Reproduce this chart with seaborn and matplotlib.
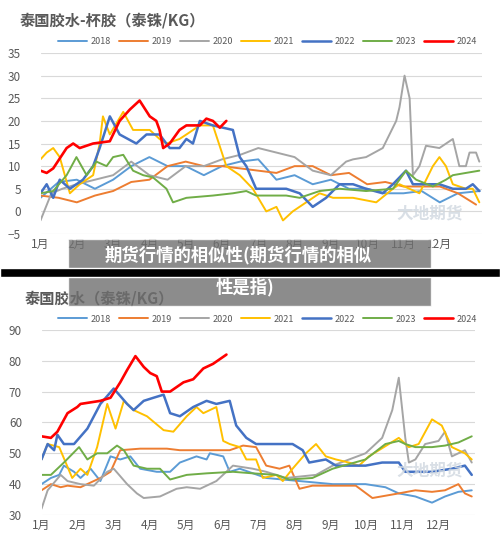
import numpy as np
import pandas as pd
import matplotlib
matplotlib.use("Agg")
import matplotlib.pyplot as plt
import seaborn as sns
from matplotlib.patches import Rectangle

sns.set_theme(style="white")
plt.rcParams['font.family'] = ['Noto Sans CJK SC', 'DejaVu Sans']

years = ['2018', '2019', '2020', '2021', '2022', '2023', '2024']
colors = ['#5B9BD5', '#ED7D31', '#A5A5A5', '#FFC000', '#4472C4', '#70AD47', '#FF0000']
month_labels = ['1月', '2月', '3月', '4月', '5月', '6月', '7月', '8月', '9月', '10月', '11月', '12月']

# ---- top chart: cup lump (months since Jan 1, value) ----
cup_x_2018 = [0, 0.5, 1, 1.5, 2, 2.5, 3, 3.5, 4, 4.5, 5, 5.5, 6, 6.5, 7, 7.5, 8, 8.5, 9, 9.5, 10, 10.5, 11, 11.5, 12.1]
cup_y_2018 = [3, 6.5, 7, 5, 7, 10, 12, 10, 10, 8, 10, 11, 11.5, 7, 8, 6, 7, 5, 5, 4, 4, 4.5, 2, 4, 4.5]
cup_x_2019 = [0, 0.5, 1, 1.5, 2, 2.5, 3, 3.5, 4, 4.5, 5, 5.5, 6, 6.5, 7, 7.5, 8, 8.5, 9, 9.5, 10, 10.5, 11, 11.5, 12.0]
cup_y_2019 = [3.5, 3, 2, 3.5, 4.5, 6.5, 7, 10, 11, 10, 10, 9.5, 9, 8.5, 10, 10, 8, 8.5, 6, 6.5, 5.5, 5.5, 5.5, 4, 1.5]
cup_x_2020 = [0, 0.3, 0.6, 1, 1.5, 2, 2.5, 3, 3.5, 4, 4.5, 5, 5.5, 6, 6.5, 7, 7.5, 8, 8.42, 8.61, 8.97, 9.43, 9.8, 9.89, 10.03, 10.17, 10.26, 10.44, 10.62, 10.99, 11.36, 11.54, 11.72, 11.82, 12.0, 12.09]
cup_y_2020 = [-2, 4, 5, 6, 7, 8, 11, 8, 7, 10, 10, 11.5, 12.5, 14, 13, 12, 9, 8, 11, 11.5, 12, 14, 20, 23, 30, 25, 8, 10, 14.5, 14, 16, 10, 10, 13, 13, 11]
cup_x_2021 = [0, 0.17, 0.35, 0.53, 0.81, 1.08, 1.45, 1.63, 1.72, 1.91, 2.28, 2.55, 3.01, 3.28, 3.47, 3.83, 4.02, 4.39, 4.75, 5.12, 5.49, 5.85, 6.22, 6.5, 6.68, 6.95, 7.32, 7.69, 8.06, 8.61, 9.25, 9.71, 9.89, 10.44, 10.81, 10.99, 11.17, 11.36, 11.72, 11.91, 12.09]
cup_y_2021 = [11.5, 13, 14, 12, 4, 6, 8, 15, 21, 17, 22, 18, 18, 16, 15, 16, 17, 19, 19, 10, 8, 5, 0, 1, -2, 0, 2, 4, 3, 3, 2, 5, 6, 4, 10, 12, 10, 6, 5, 5, 2]
cup_x_2022 = [0, 0.17, 0.35, 0.53, 0.81, 1.17, 1.45, 1.63, 1.91, 2.18, 2.64, 2.92, 3.28, 3.56, 3.83, 4.02, 4.2, 4.39, 4.75, 5.3, 5.49, 5.67, 5.94, 6.22, 6.77, 7.14, 7.5, 7.87, 8.24, 8.61, 8.97, 9.43, 9.71, 10.07, 10.26, 10.62, 10.99, 11.36, 11.72, 11.91, 12.09]
cup_y_2022 = [4, 6, 3, 7, 5, 7, 10, 14, 21, 17, 15, 17, 17, 14, 14, 16, 15, 20, 19, 18, 12, 10, 5, 5, 5, 4, 1, 3, 6, 6, 5, 4, 6, 9, 6, 6, 6, 5, 5, 6, 4.5]
cup_x_2023 = [0, 0.35, 0.72, 0.99, 1.27, 1.54, 1.82, 2.0, 2.28, 2.55, 2.83, 3.1, 3.47, 3.65, 4.02, 4.75, 5.3, 5.67, 5.94, 6.77, 7.14, 7.69, 8.24, 8.97, 9.71, 10.07, 10.35, 10.81, 11.17, 11.36, 11.72, 12.09]
cup_y_2023 = [4, 4.5, 8, 12, 8, 11, 10, 12, 12.5, 9, 8, 7.5, 5, 2, 3, 3.5, 4, 4.5, 3.5, 3.5, 3, 4.5, 5, 4.5, 5, 9, 7, 5.5, 7, 8, 8.5, 9]
cup_x_2024 = [0, 0.17, 0.35, 0.72, 0.9, 1.08, 1.45, 1.91, 2.18, 2.46, 2.73, 3.01, 3.19, 3.28, 3.38, 3.56, 3.83, 4.02, 4.39, 4.57, 4.75, 4.94, 5.12]
cup_y_2024 = [9, 8.5, 9.5, 14, 15, 14, 15, 15.5, 20, 22.5, 24.5, 21, 20, 18, 14, 15, 18, 19, 19, 20.5, 20, 18.5, 20]

# ---- bottom chart: latex ----
lat_x_2018 = [0, 0.26, 0.49, 0.62, 0.9, 1.08, 1.36, 1.63, 1.91, 2.18, 2.46, 2.73, 3.19, 3.56, 3.83, 4.29, 4.57, 4.66, 5.03, 5.21, 5.49, 6.22, 7.14, 8.06, 8.97, 9.52, 9.89, 10.35, 10.81, 11.17, 11.54, 11.91]
lat_y_2018 = [40, 42, 43, 46, 44, 42, 45, 41, 49, 48, 49, 45, 44, 44, 47, 49, 48, 50, 49, 44, 45, 42, 41, 40, 40, 39, 37, 36, 34, 36, 37.5, 38]
lat_x_2019 = [0, 0.26, 0.53, 0.72, 1.08, 1.63, 1.91, 2.18, 2.73, 3.47, 3.83, 4.57, 5.21, 5.58, 5.94, 6.22, 6.59, 6.86, 7.14, 7.5, 8.06, 8.7, 9.16, 9.89, 10.35, 10.81, 11.17, 11.54, 11.72, 11.91]
lat_y_2019 = [38, 40, 39, 39.5, 39, 42, 44, 51, 51.5, 51.5, 51, 51, 51, 52.5, 52, 46, 45, 46, 38.5, 39.5, 39.5, 39.5, 35.5, 37, 38, 37.5, 38, 40, 37, 36]
lat_x_2020 = [0, 0.17, 0.53, 0.72, 1.08, 1.45, 1.82, 2.0, 2.37, 2.64, 2.83, 3.28, 3.74, 4.02, 4.39, 4.84, 5.3, 5.85, 6.22, 6.77, 7.6, 8.06, 8.97, 9.43, 9.71, 9.89, 10.07, 10.17, 10.35, 10.62, 10.99, 11.17, 11.36, 11.72, 11.91]
lat_y_2020 = [32, 38, 43, 41, 40, 39.5, 44, 45, 40, 37, 35.5, 36, 38.5, 39, 38.5, 41, 46, 45, 44, 42, 43, 46, 50, 55, 64, 74.5, 55, 47, 48, 53, 54, 57, 49, 51, 47]
lat_x_2021 = [0, 0.17, 0.49, 0.85, 1.08, 1.27, 1.54, 1.82, 2.05, 2.28, 2.55, 2.92, 3.38, 3.65, 4.02, 4.29, 4.48, 4.84, 5.03, 5.21, 5.49, 5.67, 5.94, 6.13, 6.5, 6.68, 6.95, 7.32, 7.6, 7.87, 8.15, 8.51, 8.79, 9.06, 9.34, 9.89, 10.17, 10.44, 10.81, 11.08, 11.36, 11.72, 11.91]
lat_y_2021 = [48, 53, 52, 42, 45, 43, 52, 66, 58, 67, 64, 62, 57.5, 57, 62, 65, 63, 65, 54, 53, 52, 48, 48, 42, 43, 41, 45, 50, 53, 49, 48, 47, 46, 49, 51, 55, 52, 53, 61, 59, 52, 50, 48]
lat_x_2022 = [0, 0.17, 0.35, 0.44, 0.62, 0.9, 1.27, 1.63, 2.0, 2.37, 2.55, 2.83, 3.1, 3.38, 3.56, 3.83, 4.2, 4.57, 4.84, 5.21, 5.39, 5.67, 5.94, 6.68, 6.95, 7.23, 7.41, 7.87, 8.15, 8.97, 9.43, 9.89, 10.07, 10.81, 11.36, 11.72, 11.91]
lat_y_2022 = [48, 53, 51, 56, 53, 53, 58, 66, 71, 66, 64, 67, 68, 69, 63, 62, 65, 67, 66, 67, 59, 55, 53, 53, 53, 51, 47, 48, 46, 46, 47, 47, 44, 44, 45, 46, 43]
lat_x_2023 = [0, 0.26, 0.62, 1.04, 1.27, 1.54, 1.82, 2.09, 2.28, 2.55, 2.92, 3.28, 3.56, 4.02, 4.57, 5.3, 5.85, 6.5, 6.86, 7.5, 8.06, 8.97, 9.52, 9.89, 10.07, 10.35, 10.81, 11.17, 11.54, 11.91]
lat_y_2023 = [43, 43, 47, 52, 48, 50, 50, 52.5, 51, 46, 45, 45, 41.5, 43, 43.5, 44, 43.5, 43, 41.5, 42, 45, 48, 53, 54, 53, 52, 52, 52.5, 53.5, 55.5]
lat_x_2024 = [0, 0.26, 0.44, 0.72, 0.99, 1.08, 1.63, 1.91, 2.18, 2.37, 2.6, 2.83, 3.01, 3.19, 3.33, 3.56, 3.93, 4.2, 4.48, 4.75, 5.12]
lat_y_2024 = [55.5, 55, 57, 63, 65, 66, 67, 68, 73, 77, 81.5, 78, 76, 75, 70, 70, 73, 74, 77.5, 79, 82]

cup = {'2018': (cup_x_2018, cup_y_2018), '2019': (cup_x_2019, cup_y_2019), '2020': (cup_x_2020, cup_y_2020),
       '2021': (cup_x_2021, cup_y_2021), '2022': (cup_x_2022, cup_y_2022), '2023': (cup_x_2023, cup_y_2023),
       '2024': (cup_x_2024, cup_y_2024)}
lat = {'2018': (lat_x_2018, lat_y_2018), '2019': (lat_x_2019, lat_y_2019), '2020': (lat_x_2020, lat_y_2020),
       '2021': (lat_x_2021, lat_y_2021), '2022': (lat_x_2022, lat_y_2022), '2023': (lat_x_2023, lat_y_2023),
       '2024': (lat_x_2024, lat_y_2024)}

def to_df(d):
    rows = []
    for yr in years:
        xs, ys = d[yr]
        for i, (a, b) in enumerate(zip(xs, ys)):
            rows.append((yr, i, a, b))
    return pd.DataFrame(rows, columns=['year', 'idx', 'month', 'value'])

fig = plt.figure(figsize=(5.0, 5.46), dpi=100)
txt = '#595959'
palette = dict(zip(years, colors))
widths = {'2018': 1.4, '2019': 1.4, '2020': 1.4, '2021': 1.4, '2022': 1.8, '2023': 1.4, '2024': 1.9}

def draw(ax, d, ylim, yticks, xmax):
    df = to_df(d)
    for yr in years:
        sub = df[df.year == yr]
        sns.lineplot(data=sub, x='month', y='value', color=palette[yr], lw=widths[yr],
                     sort=False, estimator=None, ax=ax, label=yr, legend=False)
    ax.set_xlim(0, xmax)
    ax.set_ylim(*ylim)
    ax.set_yticks(yticks)
    ax.set_xticks(range(12))
    ax.set_xticklabels(month_labels)
    ax.set_xlabel('')
    ax.set_ylabel('')
    ax.grid(axis='y', color='#d9d9d9', lw=0.8)
    ax.set_axisbelow(True)
    for s in ax.spines.values():
        s.set_visible(False)
    ax.tick_params(axis='both', labelsize=8.5, colors=txt, length=0, pad=3)
    ax.tick_params(axis='y', pad=14)

ax1 = fig.add_axes([0.081, 0.5714, 0.882, 0.3315])
draw(ax1, cup, (-5, 35), range(-5, 36, 5), 12.15)
ax2 = fig.add_axes([0.083, 0.0568, 0.867, 0.339])
draw(ax2, lat, (30, 90), range(30, 91, 10), 12.0)

fig.text(0.04, 1 - 20/546, '泰国胶水-杯胶（泰铢/KG）', fontsize=11, fontweight='bold', color=txt, va='center')
fig.text(0.05, 1 - 298/546, '泰国胶水（泰铢/KG）', fontsize=11, fontweight='bold', color=txt, va='center')

h, l = ax1.get_legend_handles_labels()
fig.legend(h, l, loc='center', bbox_to_anchor=(0.535, 1 - 42/546), ncol=7, frameon=False,
           fontsize=6.5, handlelength=3.2, columnspacing=0.9, handletextpad=0.4, labelcolor=txt)
fig.legend(h, l, loc='center', bbox_to_anchor=(0.535, 1 - 319/546), ncol=7, frameon=False,
           fontsize=6.5, handlelength=3.2, columnspacing=0.9, handletextpad=0.4, labelcolor=txt)

# watermark
fig.text(0.86, 1 - 213/546, '大地期货', fontsize=12, color='#d0d8e0', ha='center', va='center', fontweight='bold', alpha=0.8)
fig.text(0.86, 1 - 470/546, '大地期货', fontsize=12, color='#d0d8e0', ha='center', va='center', fontweight='bold', alpha=0.8)

# overlay banner
fig.patches.append(Rectangle((68/500, 1 - 306/546), 363/500, 67/546, transform=fig.transFigure,
                             facecolor='#6f6f6f', alpha=0.8, zorder=10))
fig.patches.append(Rectangle((0, 1 - 277/546), 1, 9/546, transform=fig.transFigure,
                             facecolor='black', zorder=11))
fig.text(238/500, 1 - 255/546, '期货行情的相似性(期货行情的相似', fontsize=12.5, fontweight='bold',
         color='white', ha='center', va='center', zorder=12)
fig.text(245/500, 1 - 287/546, '性是指)', fontsize=12.5, fontweight='bold',
         color='white', ha='center', va='center', zorder=12)

fig.savefig('out.png', dpi=100)
